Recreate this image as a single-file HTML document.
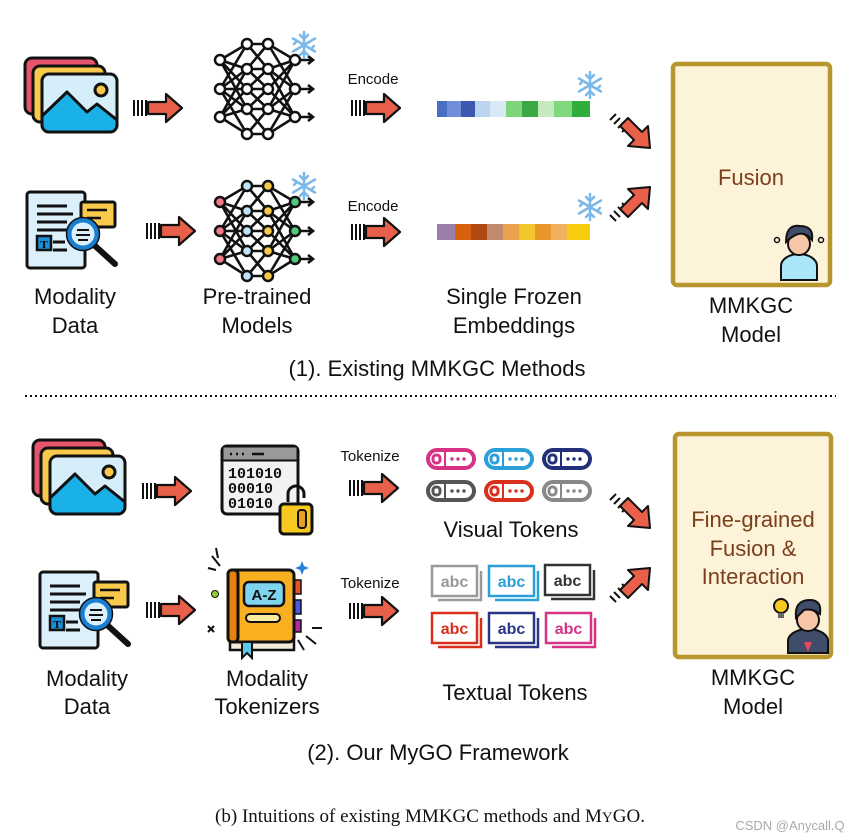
<!DOCTYPE html>
<html><head><meta charset="utf-8"><style>
html,body{margin:0;padding:0;background:#fff}
svg{display:block}
.t{font-family:"Liberation Sans","DejaVu Sans",sans-serif;fill:#111}
</style></head><body>
<svg width="859" height="839" viewBox="0 0 859 839" xmlns="http://www.w3.org/2000/svg">
<defs>
<g id="arr">
 <path d="M0 -8v16M4 -8v16M8 -8v16M12 -8v16" stroke="#111" stroke-width="2"/>
 <path d="M14 -6H32V-14L48 0L32 14V6H14Z" fill="#e8604a" stroke="#111" stroke-width="2.2" stroke-linejoin="round"/>
</g>
<g id="img">
 <rect x="0" y="0" width="72" height="56" rx="7" fill="#e5566d" stroke="#111" stroke-width="3"/>
 <rect x="8" y="8" width="72" height="56" rx="7" fill="#f8c94a" stroke="#111" stroke-width="3"/>
 <rect x="17" y="16" width="75" height="58" rx="7" fill="#d6eefa" stroke="#111" stroke-width="3"/>
 <path d="M17 58L42 34L62 54L72 46L92 62V67a7 7 0 0 1-7 7H24a7 7 0 0 1-7-7Z" fill="#1ab0e8" stroke="#111" stroke-width="3" stroke-linejoin="round"/>
 <circle cx="76" cy="32" r="6" fill="#f8c94a" stroke="#111" stroke-width="3"/>
</g>
<g id="doc">
 <rect x="0" y="0" width="58" height="76" rx="3" fill="#dcf0fb" stroke="#111" stroke-width="3"/>
 <path d="M10 14h30M10 22h36M10 30h30M10 38h34M26 50h12M26 58h14" stroke="#111" stroke-width="3"/>
 <rect x="10" y="44" width="14" height="14" fill="#1a8fd8" stroke="#111" stroke-width="2.5"/>
 <text x="17" y="56" font-size="11" font-weight="bold" text-anchor="middle" font-family="Liberation Serif,serif">T</text>
 <rect x="54" y="10" width="34" height="25" rx="2" fill="#f8c94a" stroke="#111" stroke-width="3"/>
 <path d="M60 18h20M60 26h14" stroke="#111" stroke-width="2.5"/>
 <line x1="66" y1="52" x2="88" y2="72" stroke="#111" stroke-width="6" stroke-linecap="round"/>
 <circle cx="56" cy="42" r="14" fill="#dcf0fb" stroke="#1a7fd0" stroke-width="5"/>
 <circle cx="56" cy="42" r="16.5" fill="none" stroke="#111" stroke-width="1.5"/>
 <path d="M50 38h12M49 43h14M51 48h10" stroke="#111" stroke-width="2"/>
</g>
<g id="nnlines" stroke="#111" stroke-width="2.6" fill="none">
 <path d="M8 19L35 3M8 19L35 28M8 19L35 48M8 19L35 68M8 48L35 3M8 48L35 28M8 48L35 48M8 48L35 68M8 48L35 93M8 76L35 28M8 76L35 48M8 76L35 68M8 76L35 93"/>
 <path d="M35 3L56 28M35 28L56 3M35 28L56 48M35 48L56 28M35 48L56 68M35 68L56 48M35 68L56 93M35 93L56 68M35 3H56M35 28H56M35 48H56M35 68H56M35 93H56"/>
 <path d="M83 19L56 3M83 19L56 28M83 19L56 48M83 19L56 68M83 48L56 3M83 48L56 28M83 48L56 68M83 48L56 93M83 76L56 28M83 76L56 48M83 76L56 68M83 76L56 93"/>
 <path d="M83 19H100M83 48H100M83 76H100M96 15l5 4-5 4M96 44l5 4-5 4M96 72l5 4-5 4"/>
</g>
<g id="snow" stroke="#7ab8ea" stroke-width="2.5" stroke-linecap="round" fill="none">
 <path d="M0 -13V13M-11 -6.5L11 6.5M-11 6.5L11 -6.5M-4 -10L0 -6L4 -10M-4 10L0 6L4 10M-10 -1L-7 -4M10 1L7 4"/>
</g>
<g id="key">
 <rect x="0" y="0" width="46" height="18" rx="9" fill="none" stroke="currentColor" stroke-width="4"/>
 <rect x="5" y="5" width="7" height="8" rx="3" fill="none" stroke="currentColor" stroke-width="3"/>
 <circle cx="24" cy="9" r="1.7" fill="currentColor"/><circle cx="30" cy="9" r="1.7" fill="currentColor"/><circle cx="36" cy="9" r="1.7" fill="currentColor"/>
 <line x1="17" y1="2" x2="17" y2="16" stroke="currentColor" stroke-width="2"/>
</g>
<g id="abc">
 <path d="M6 34H49V5" fill="none" stroke="currentColor" stroke-width="2.5"/>
 <rect x="0" y="0" width="45" height="30" fill="#fff" stroke="currentColor" stroke-width="2.5"/>
 <text x="22.5" y="21" font-size="16" text-anchor="middle" font-weight="bold" fill="currentColor" font-family="Liberation Sans,sans-serif">abc</text>
</g>
<g id="diag">
 <path d="M0 0l-6 6M4 4l-6 6M8 8l-6 6M12 12l-6 6" stroke="#111" stroke-width="2"/>
 <path d="M12 4L26 18L32 12L34 34L12 32L18 26L4 12Z" fill="#e8604a" stroke="#111" stroke-width="2" stroke-linejoin="round"/>
</g>
</defs>

<use href="#img" x="25" y="58"/>
<use href="#arr" x="134" y="108"/>
<g transform="translate(212,41)"><use href="#nnlines"/>
 <g fill="#fff" stroke="#111" stroke-width="2.5">
 <circle cx="8" cy="19" r="5"/><circle cx="8" cy="48" r="5"/><circle cx="8" cy="76" r="5"/>
 <circle cx="35" cy="3" r="5"/><circle cx="35" cy="28" r="5"/><circle cx="35" cy="48" r="5"/><circle cx="35" cy="68" r="5"/><circle cx="35" cy="93" r="5"/>
 <circle cx="56" cy="3" r="5"/><circle cx="56" cy="28" r="5"/><circle cx="56" cy="48" r="5"/><circle cx="56" cy="68" r="5"/><circle cx="56" cy="93" r="5"/>
 <circle cx="83" cy="19" r="5"/><circle cx="83" cy="48" r="5"/><circle cx="83" cy="76" r="5"/></g></g>
<use href="#snow" x="304" y="45"/>
<text class="t" x="373" y="84" font-size="15" text-anchor="middle">Encode</text>
<use href="#arr" x="352" y="108"/>
<g>
 <rect x="437" y="101" width="10" height="16" fill="#4a6fc2"/><rect x="447" y="101" width="14" height="16" fill="#6f8fd8"/>
 <rect x="461" y="101" width="14" height="16" fill="#3e58b0"/><rect x="475" y="101" width="15" height="16" fill="#b9d5ee"/>
 <rect x="490" y="101" width="16" height="16" fill="#d8e8f4"/><rect x="506" y="101" width="16" height="16" fill="#7ed47a"/>
 <rect x="522" y="101" width="16" height="16" fill="#3aa843"/><rect x="538" y="101" width="16" height="16" fill="#c6eac0"/>
 <rect x="554" y="101" width="18" height="16" fill="#7fd87c"/><rect x="572" y="101" width="18" height="16" fill="#2fae3c"/>
</g>
<use href="#snow" x="590" y="85"/>
<use href="#diag" x="616" y="114"/>

<use href="#doc" x="27" y="192"/>
<use href="#arr" x="147" y="231"/>
<g transform="translate(212,183)"><use href="#nnlines"/>
 <g stroke="#111" stroke-width="2.5">
 <circle cx="8" cy="19" r="5" fill="#f07a86"/><circle cx="8" cy="48" r="5" fill="#f07a86"/><circle cx="8" cy="76" r="5" fill="#f07a86"/>
 <circle cx="35" cy="3" r="5" fill="#bfe4f8"/><circle cx="35" cy="28" r="5" fill="#bfe4f8"/><circle cx="35" cy="48" r="5" fill="#bfe4f8"/><circle cx="35" cy="68" r="5" fill="#bfe4f8"/><circle cx="35" cy="93" r="5" fill="#bfe4f8"/>
 <circle cx="56" cy="3" r="5" fill="#f8c94a"/><circle cx="56" cy="28" r="5" fill="#f8c94a"/><circle cx="56" cy="48" r="5" fill="#f8c94a"/><circle cx="56" cy="68" r="5" fill="#f8c94a"/><circle cx="56" cy="93" r="5" fill="#f8c94a"/>
 <circle cx="83" cy="19" r="5" fill="#4fc97a"/><circle cx="83" cy="48" r="5" fill="#4fc97a"/><circle cx="83" cy="76" r="5" fill="#4fc97a"/></g></g>
<use href="#snow" x="304" y="186"/>
<text class="t" x="373" y="211" font-size="15" text-anchor="middle">Encode</text>
<use href="#arr" x="352" y="232"/>
<g>
 <rect x="437" y="224" width="18" height="16" fill="#9a7ea8"/><rect x="455" y="224" width="16" height="16" fill="#d8600e"/>
 <rect x="471" y="224" width="16" height="16" fill="#b04a14"/><rect x="487" y="224" width="16" height="16" fill="#c38a72"/>
 <rect x="503" y="224" width="16" height="16" fill="#eaa24e"/><rect x="519" y="224" width="16" height="16" fill="#f2c52a"/>
 <rect x="535" y="224" width="16" height="16" fill="#e8952a"/><rect x="551" y="224" width="16" height="16" fill="#f0b060"/>
 <rect x="567" y="224" width="23" height="16" fill="#f8cc10"/>
</g>
<use href="#snow" x="590" y="207"/>
<g transform="translate(616,221) scale(1,-1)"><use href="#diag"/></g>

<rect x="673" y="64" width="157" height="221" rx="4" fill="#fcf3d9" stroke="#b8962e" stroke-width="4.5"/>
<text x="751" y="185" font-size="22" text-anchor="middle" fill="#7b3f1e" font-family="Liberation Sans,sans-serif">Fusion</text>
<g transform="translate(799,248)">
 <path d="M-18 32v-14a18 12 0 0 1 36 0v14Z" fill="#a9e6f7" stroke="#111" stroke-width="2"/>
 <circle cx="0" cy="-4" r="11" fill="#f7c6a6" stroke="#111" stroke-width="2"/>
 <path d="M-13 -6q0-18 14-16q14 0 12 14q-6-8-14-6q-6 2-12 8Z" fill="#3f4d6a" stroke="#111" stroke-width="2"/>
 <circle cx="-22" cy="-8" r="2.5" fill="none" stroke="#111" stroke-width="1.5"/><circle cx="22" cy="-8" r="2.5" fill="none" stroke="#111" stroke-width="1.5"/>
</g>
<text class="t" x="751" y="313" font-size="22" text-anchor="middle">MMKGC</text>
<text class="t" x="751" y="342" font-size="22" text-anchor="middle">Model</text>

<text class="t" x="75" y="304" font-size="22" text-anchor="middle">Modality</text>
<text class="t" x="75" y="333" font-size="22" text-anchor="middle">Data</text>
<text class="t" x="257" y="304" font-size="22" text-anchor="middle">Pre-trained</text>
<text class="t" x="257" y="333" font-size="22" text-anchor="middle">Models</text>
<text class="t" x="514" y="304" font-size="22" text-anchor="middle">Single Frozen</text>
<text class="t" x="514" y="333" font-size="22" text-anchor="middle">Embeddings</text>
<text class="t" x="437" y="376" font-size="22" text-anchor="middle">(1). Existing MMKGC Methods</text>

<line x1="25" y1="396" x2="836" y2="396" stroke="#111" stroke-width="2" stroke-dasharray="2 3"/>

<use href="#img" x="33" y="440"/>
<use href="#arr" x="143" y="491"/>
<g transform="translate(222,446)">
 <rect x="0" y="0" width="76" height="68" rx="5" fill="#f2f2f2" stroke="#111" stroke-width="3"/>
 <path d="M0 14H76" stroke="#111" stroke-width="3"/><rect x="1.5" y="1.5" width="73" height="12" fill="#999"/>
 <path d="M8 8h2M14 8h2M20 8h2M30 8h12" stroke="#111" stroke-width="2.5"/>
 <text x="6" y="32" font-size="15" font-weight="bold" font-family="Liberation Mono,monospace" fill="#111">101010</text>
 <text x="6" y="47" font-size="15" font-weight="bold" font-family="Liberation Mono,monospace" fill="#111">00010</text>
 <text x="6" y="62" font-size="15" font-weight="bold" font-family="Liberation Mono,monospace" fill="#111">01010</text>
 <path d="M66 56v-8a8 8 0 0 1 16 0v4" fill="none" stroke="#111" stroke-width="3"/>
 <rect x="58" y="58" width="32" height="30" rx="4" fill="#f8c920" stroke="#111" stroke-width="3"/>
 <rect x="76" y="64" width="8" height="18" rx="3" fill="#e8a020" stroke="#111" stroke-width="2"/>
</g>
<text class="t" x="370" y="461" font-size="15" text-anchor="middle">Tokenize</text>
<use href="#arr" x="350" y="488"/>
<use href="#key" x="428" y="450" color="#d63384"/>
<use href="#key" x="486" y="450" color="#2a9fd8"/>
<use href="#key" x="544" y="450" color="#22307a"/>
<use href="#key" x="428" y="482" color="#555"/>
<use href="#key" x="486" y="482" color="#d9301e"/>
<use href="#key" x="544" y="482" color="#888"/>
<text class="t" x="511" y="537" font-size="22" text-anchor="middle">Visual Tokens</text>
<use href="#diag" x="616" y="494"/>

<use href="#doc" x="40" y="572"/>
<use href="#arr" x="147" y="610"/>
<g transform="translate(228,570)">
 <path d="M-16 -14l8 10M-20 -2l8 2M-12 -22l2 10M78 66l10 8M70 70l6 10M84 58l10 0" stroke="#111" stroke-width="2"/>
 <circle cx="-13" cy="24" r="3.5" fill="#8fcf3c" stroke="#111"/>
 <path d="M-20 56l6 6M-14 56l-6 6" stroke="#111" stroke-width="2"/>
 <path d="M72 -4l2 -5l2 5l5 2l-5 2l-2 5l-2-5l-5-2Z" fill="#2a7fd8"/>
 <rect x="66" y="10" width="7" height="14" fill="#e8502a" stroke="#111" stroke-width="1.5"/>
 <rect x="66" y="30" width="7" height="14" fill="#4a5ae0" stroke="#111" stroke-width="1.5"/>
 <rect x="66" y="50" width="7" height="12" fill="#b02a9e" stroke="#111" stroke-width="1.5"/>
 <path d="M2 70h64v10h-64Z" fill="#f4ead8" stroke="#111" stroke-width="2.5"/>
 <rect x="0" y="0" width="66" height="72" rx="5" fill="#f8b020" stroke="#111" stroke-width="3"/>
 <rect x="0" y="0" width="10" height="72" rx="4" fill="#e88010" stroke="#111" stroke-width="3"/>
 <rect x="16" y="12" width="40" height="24" rx="5" fill="#7fd4ee" stroke="#111" stroke-width="2.5"/>
 <text x="36" y="30" font-size="15" text-anchor="middle" font-weight="bold" font-family="Liberation Sans,sans-serif" fill="#111">A-Z</text>
 <rect x="18" y="44" width="34" height="8" rx="4" fill="#fbeaa0" stroke="#111" stroke-width="2"/>
 <path d="M14 72v16l5-5l5 5v-16Z" fill="#5fc8e8" stroke="#111" stroke-width="2"/>
</g>
<text class="t" x="370" y="588" font-size="15" text-anchor="middle">Tokenize</text>
<use href="#arr" x="350" y="611"/>
<use href="#abc" x="432" y="566" color="#999"/>
<use href="#abc" x="489" y="566" color="#2a9fd8"/>
<use href="#abc" x="545" y="565" color="#333"/>
<use href="#abc" x="432" y="613" color="#d9301e"/>
<use href="#abc" x="489" y="613" color="#2a3585"/>
<use href="#abc" x="546" y="613" color="#d63384"/>
<text class="t" x="515" y="700" font-size="22" text-anchor="middle">Textual Tokens</text>
<g transform="translate(616,602) scale(1,-1)"><use href="#diag"/></g>

<rect x="675" y="434" width="156" height="223" rx="4" fill="#fcf3d9" stroke="#b8962e" stroke-width="4.5"/>
<text x="753" y="527" font-size="22" text-anchor="middle" fill="#7b3f1e" font-family="Liberation Sans,sans-serif">Fine-grained</text>
<text x="753" y="556" font-size="22" text-anchor="middle" fill="#7b3f1e" font-family="Liberation Sans,sans-serif">Fusion &amp;</text>
<text x="753" y="584" font-size="22" text-anchor="middle" fill="#7b3f1e" font-family="Liberation Sans,sans-serif">Interaction</text>
<g transform="translate(808,620)">
 <path d="M-20 33v-12a20 12 0 0 1 40 0v12Z" fill="#3f4d6a" stroke="#111" stroke-width="2"/>
 <path d="M-4 22l4 10l4-10Z" fill="#e84a5a"/>
 <circle cx="0" cy="0" r="11" fill="#f7c6a6" stroke="#111" stroke-width="2"/>
 <path d="M-12 -2q-2-18 14-18q12 0 10 14q-8-6-16-4Z" fill="#3f4d6a" stroke="#111" stroke-width="2"/>
 <circle cx="-27" cy="-14" r="7" fill="#f8c920" stroke="#111" stroke-width="2"/>
 <rect x="-30" y="-7" width="6" height="5" fill="#666"/>
</g>
<text class="t" x="753" y="685" font-size="22" text-anchor="middle">MMKGC</text>
<text class="t" x="753" y="714" font-size="22" text-anchor="middle">Model</text>

<text class="t" x="87" y="686" font-size="22" text-anchor="middle">Modality</text>
<text class="t" x="87" y="714" font-size="22" text-anchor="middle">Data</text>
<text class="t" x="267" y="686" font-size="22" text-anchor="middle">Modality</text>
<text class="t" x="267" y="714" font-size="22" text-anchor="middle">Tokenizers</text>
<text class="t" x="438" y="760" font-size="22" text-anchor="middle">(2). Our MyGO Framework</text>

<text x="430" y="822" font-size="19" text-anchor="middle" fill="#111" font-family="Liberation Serif,serif">(b)  Intuitions of existing MMKGC methods and M<tspan font-size="15">Y</tspan>GO.</text>
<text x="790" y="830" font-size="13" text-anchor="middle" fill="#aaa" font-family="Liberation Sans,sans-serif">CSDN @Anycall.Q</text>
</svg>
</body></html>
